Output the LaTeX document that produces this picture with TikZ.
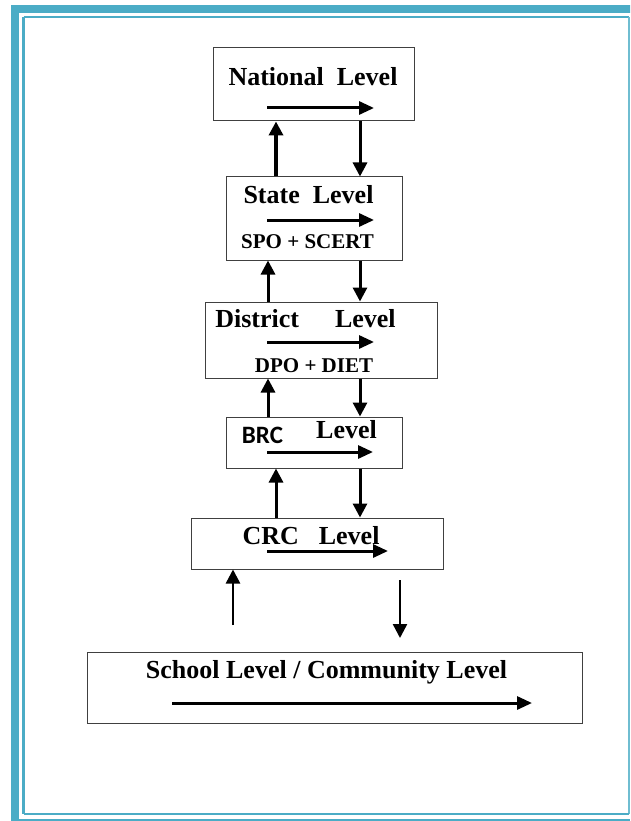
\documentclass[tikz,border=0pt]{standalone}
\usepackage{fontspec}
\setmainfont{Liberation Serif}
\newfontfamily\brcfont{Carlito}
\usetikzlibrary{arrows.meta}

\definecolor{framecyan}{HTML}{4BACC6}

\newcommand\levelfont{\fontsize{26}{31}\selectfont\bfseries}
\newcommand\subfont{\fontsize{21}{25}\selectfont\bfseries}

\tikzset{
  levelbox/.style={draw=black!75, line width=1pt, inner sep=0pt},
  lbl/.style={inner sep=0pt, anchor=base, font=\levelfont},
  flow/.style={line width=3pt, -{Triangle[length=15pt,width=13pt]}},
  link/.style={line width=3pt, -{Triangle[length=14pt,width=14pt]}}
}

\begin{document}
\begin{tikzpicture}[x=1pt,y=-1pt]
  \useasboundingbox (0,0) rectangle (630,821);
  \clip (0,0) rectangle (630,821);

  % page frame
  \draw[framecyan, line width=8pt] (15,9) rectangle (660,850);
  \draw[framecyan, line width=2.5pt] (23.5,17) -- (629,17);
  \draw[framecyan, line width=2.5pt] (23.5,17) -- (23.5,814);
  \draw[framecyan!80, line width=1.5pt] (629,17) -- (629,814);
  \draw[framecyan, line width=2.5pt] (23.5,814) -- (629,814);
  \draw[framecyan, line width=3pt] (19,820) -- (630,820);

  % level boxes
  \node[levelbox, minimum width=201pt, minimum height=73pt] (national) at (313.5,84.5) {};
  \node[levelbox, minimum width=176pt, minimum height=83pt] (state) at (314,218.5) {};
  \node[levelbox, minimum width=232pt, minimum height=76pt] (district) at (321,340) {};
  \node[levelbox, minimum width=176pt, minimum height=51pt] (brc) at (314,442.5) {};
  \node[levelbox, minimum width=252pt, minimum height=51pt] (crc) at (317,543.5) {};
  \node[levelbox, minimum width=495pt, minimum height=71pt] (school) at (334.5,687.5) {};

  % labels
  \node[lbl] (nationaltxt) at (313,86) {National\ \ Level};
  \node[lbl] (statetxt) at (308.5,203) {State\ \ Level};
  \node[lbl, font=\subfont] (statesub) at (307.5,248) {SPO + SCERT};
  \node[lbl] (districttxt) at (305.5,327) {District\hspace{36pt}Level};
  \node[lbl, font=\subfont] (districtsub) at (314,372) {DPO + DIET};
  \node[lbl, font=\brcfont\fontsize{25}{30}\selectfont\bfseries] (brctxt) at (262.5,443) {BRC};
  \node[lbl] (brclevel) at (346.5,438) {Level};
  \node[lbl] (crctxt) at (311,544) {CRC\hspace{20pt}Level};
  \node[lbl] (schooltxt) at (326.5,678) {School Level / Community Level};

  % arrows inside the boxes
  \draw[flow] (267,108) -- (374,108);
  \draw[flow] (267,220) -- (374,220);
  \draw[flow] (267,342) -- (374,342);
  \draw[flow] (267,452) -- (373,452);
  \draw[flow] (267,551) -- (388,551);
  \draw[flow] (172,703) -- (532,703);

  % links between levels
  \coordinate (upa) at (276,0);
  \coordinate (upb) at (268,0);
  \coordinate (downa) at (360,0);
  \draw[link, line width=4.5pt] (state.north -| upa) -- (national.south -| upa);
  \draw[link] (national.south -| downa) -- (state.north -| downa);
  \draw[link] (district.north -| upb) -- (state.south -| upb);
  \draw[link] (state.south -| downa) -- (district.north -| downa);
  \draw[link] (brc.north -| upb) -- (district.south -| upb);
  \draw[link] (district.south -| downa) -- (brc.north -| downa);
  \draw[link] (crc.north -| upa) -- (brc.south -| upa);
  \draw[link] (brc.south -| downa) -- (crc.north -| downa);

  \coordinate (fromschool) at (233,625);
  \coordinate (toschool) at (400,580);
  \coordinate (toschoolend) at (400,638);
  \draw[link, line width=2.5pt] (fromschool) -- (crc.south -| fromschool);
  \draw[link, line width=2.5pt] (toschool) -- (toschoolend);
\end{tikzpicture}
\end{document}
